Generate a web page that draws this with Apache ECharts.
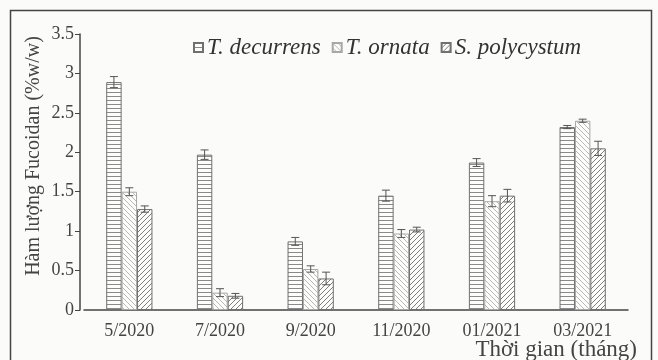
<!DOCTYPE html>
<html>
<head>
<meta charset="utf-8">
<script src="https://cdn.jsdelivr.net/npm/echarts@6/dist/echarts.min.js"></script>
<style>
  html, body { margin: 0; padding: 0; background: #fbfbf9; }
  #chart { width: 658px; height: 360px; }
</style>
</head>
<body>
<div id="chart"></div>
<script>
// ========== 数据 ==========
const months = ['5/2020', '7/2020', '9/2020', '11/2020', '01/2021', '03/2021'];
const seriesNames = ['T. decurrens', 'T. ornata', 'S. polycystum'];
const decurrens = [2.89, 1.97, 0.87, 1.45, 1.87, 2.32];
const decurrensErr = [0.07, 0.06, 0.05, 0.07, 0.05, 0.02];
const ornata = [1.50, 0.22, 0.52, 0.97, 1.38, 2.40];
const ornataErr = [0.05, 0.05, 0.04, 0.05, 0.07, 0.02];
const polycystum = [1.28, 0.18, 0.40, 1.02, 1.45, 2.05];
const polycystumErr = [0.04, 0.03, 0.08, 0.03, 0.08, 0.09];

const FONT = '"Liberation Serif", "DejaVu Serif", serif';

// ========== 填充纹理 ==========
function makePattern(kind) {
  const c = document.createElement('canvas');
  const s = kind === 'h' ? 4 : 5;
  c.width = s; c.height = s;
  const g = c.getContext('2d');
  g.fillStyle = '#fdfdfb';
  g.fillRect(0, 0, s, s);
  g.lineWidth = 1;
  if (kind === 'h') {
    g.strokeStyle = '#8a8a8a';
    g.beginPath(); g.moveTo(0, 0.5); g.lineTo(s, 0.5); g.stroke();
  } else if (kind === 'back') {
    g.strokeStyle = '#b8b8b8';
    g.beginPath(); g.moveTo(-1, -1); g.lineTo(s + 1, s + 1); g.stroke();
  } else {
    g.strokeStyle = '#7e7e7e';
    g.beginPath(); g.moveTo(-1, s + 1); g.lineTo(s + 1, -1); g.stroke();
  }
  return { image: c, repeat: 'repeat' };
}

function barSeries(name, data, kind, border) {
  return {
    name, type: 'bar', data,
    barGap: '0%', barCategoryGap: '49%',
    itemStyle: { color: makePattern(kind), borderColor: border, borderWidth: 1 },
    emphasis: { disabled: true }
  };
}

// 误差线：用 custom series 画 I 形
function errSeries(values, errs, idx) {
  return {
    type: 'custom', silent: true, z: 5,
    data: values.map((v, i) => [i, v - errs[i], v + errs[i]]),
    renderItem(params, api) {
      const i = api.value(0);
      const bw = api.size([1, 0])[0] * 0.51 / 3;
      const cx = api.coord([i, 0])[0] + (idx - 1) * bw;
      const lo = api.coord([i, api.value(1)])[1];
      const hi = api.coord([i, api.value(2)])[1];
      const hw = 4;
      const style = { stroke: '#555', lineWidth: 1 };
      return {
        type: 'group',
        children: [
          { type: 'line', shape: { x1: cx, y1: lo, x2: cx, y2: hi }, style },
          { type: 'line', shape: { x1: cx - hw, y1: hi, x2: cx + hw, y2: hi }, style },
          { type: 'line', shape: { x1: cx - hw, y1: lo, x2: cx + hw, y2: lo }, style }
        ]
      };
    }
  };
}

const chart = echarts.init(document.getElementById('chart'), null, { renderer: 'canvas' });
chart.setOption({
  backgroundColor: '#fbfbf9',
  animation: false,
  grid: { left: 84, right: 30, top: 34, bottom: 50 },
  legend: {
    data: seriesNames,
    left: 188, top: 31,
    itemWidth: 9, itemHeight: 9, itemGap: 11,
    icon: 'rect',
    textStyle: { fontFamily: FONT, fontStyle: 'italic', fontSize: 23, color: '#333', padding: [0, 0, 0, -1] }
  },
  xAxis: {
    type: 'category', data: months,
    axisLine: { lineStyle: { color: '#444', width: 1.5 } },
    axisTick: { show: false },
    axisLabel: { fontFamily: FONT, fontSize: 18, color: '#444', margin: 12 }
  },
  yAxis: {
    type: 'value', min: 0, max: 3.5, interval: 0.5,
    offset: 4,
    axisLine: { show: true, lineStyle: { color: '#444', width: 1.5 } },
    axisTick: { show: true, length: 5, lineStyle: { color: '#444' } },
    splitLine: { show: false },
    axisLabel: { fontFamily: FONT, fontSize: 18, color: '#444', margin: 6 }
  },
  graphic: [
    { type: 'rect', shape: { x: 10.5, y: 10.5, width: 641, height: 360 },
      style: { fill: 'none', stroke: '#444', lineWidth: 1.5 }, silent: true },
    { type: 'text', x: 34, y: 156, rotation: Math.PI / 2,
      style: { text: 'Hàm lượng Fucoidan (%w/w)', fontFamily: FONT, fontSize: 20, fill: '#444',
               align: 'center', verticalAlign: 'middle' } },
    { type: 'text', x: 637, y: 350,
      style: { text: 'Thời gian (tháng)', fontFamily: FONT, fontSize: 23, fill: '#444',
               align: 'right', verticalAlign: 'middle' } }
  ],
  series: [
    barSeries(seriesNames[0], decurrens, 'h', '#707070'),
    barSeries(seriesNames[1], ornata, 'back', '#a8a8a8'),
    barSeries(seriesNames[2], polycystum, 'fwd', '#707070'),
    errSeries(decurrens, decurrensErr, 0),
    errSeries(ornata, ornataErr, 1),
    errSeries(polycystum, polycystumErr, 2)
  ]
});
</script>
</body>
</html>
